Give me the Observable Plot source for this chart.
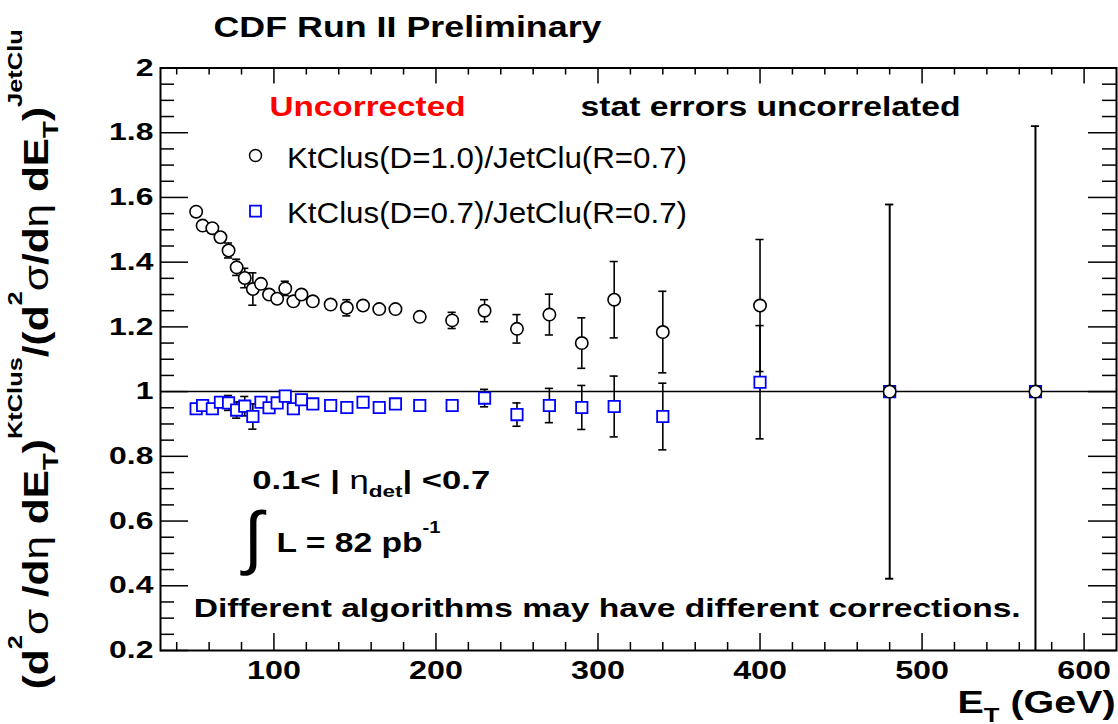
<!DOCTYPE html>
<html><head><meta charset="utf-8">
<script src="https://cdn.jsdelivr.net/npm/d3@7"></script>
<script src="https://cdn.jsdelivr.net/npm/@observablehq/plot@0.6"></script>
<style>
html,body{margin:0;padding:0;background:#fff;}
#chart{width:1118px;height:724px;}
</style></head><body><div id="chart"></div>
<script>
// ---- data ----
const et = [52,56,62,67,72,77,82,87,92,97,102,107,112,117,124,135,145,155,165,175,190,210,230,250,270,290,310,340,400,480,570];
const ktD10 = [1.556,1.513,1.505,1.477,1.436,1.384,1.351,1.317,1.333,1.300,1.287,1.319,1.279,1.300,1.279,1.269,1.259,1.266,1.255,1.255,1.231,1.220,1.250,1.194,1.238,1.150,1.284,1.184,1.266,1.0,1.0];
const ktD10Err = [0.008,0.010,0.015,0.012,0.023,0.025,0.030,0.050,0.010,0.010,0.010,0.022,0.010,0.010,0.008,0.012,0.025,0.008,0.008,0.008,0.008,0.025,0.034,0.044,0.063,0.078,0.118,0.126,0.204,0.578,0.820];
const ktD07 = [0.947,0.957,0.947,0.967,0.965,0.943,0.955,0.923,0.967,0.950,0.965,0.986,0.947,0.975,0.962,0.957,0.951,0.967,0.951,0.962,0.957,0.957,0.980,0.929,0.957,0.951,0.954,0.923,1.029,1.0,1.0];
const ktD07Err = [0.005,0.008,0.010,0.012,0.023,0.025,0.030,0.039,0.010,0.010,0.010,0.015,0.010,0.010,0.008,0.008,0.015,0.008,0.008,0.008,0.008,0.010,0.027,0.036,0.053,0.068,0.094,0.103,0.175,0.578,0.820];
const seriesNames = ["KtClus(D=1.0)/JetClu(R=0.7)", "KtClus(D=0.7)/JetClu(R=0.7)"];
const xTicks = [100,200,300,400,500,600];
const yTicks = [0.2,0.4,0.6,0.8,1,1.2,1.4,1.6,1.8,2];

// ---- tables ----
const s1 = et.map((e,i)=>({et:e, v:ktD10[i], err:ktD10Err[i]}));
const s2 = et.map((e,i)=>({et:e, v:ktD07[i], err:ktD07Err[i]}));
const both = s2.concat(s1);
const xMinor = d3.range(40, 620, 20).filter(v => v % 100 !== 0);
const yMinor = d3.range(5, 40, 1).map(v => v/20).filter(v => Math.abs(v*5 - Math.round(v*5)) > 1e-9 && v > 0.2 && v < 2);

const W=1118, H=724, mL=160, mR=2, mT=67.5, mB=74;
const pw = W-mL-mR, ph = H-mT-mB;
const font = "'Liberation Sans', Arial, Helvetica, sans-serif";
const tk = {stroke:"black", strokeWidth:1.5};

const targets = new Map(); // text -> drawn width (the reference glyphs are wide)
function label(str, dx, dy, w, o = {}) {
  if (w) targets.set(str, w);
  return Plot.text([str], Object.assign({frameAnchor:"top-left", dx, dy, text:d=>d,
    textAnchor:"start", lineAnchor:"bottom", fontSize:27, fontWeight:"bold", fill:"black"}, o));
}
const yLabel = "(d^{2}~{σ} /d~{η} dE_{T})^{KtClus}/(d^{2}~{σ}/d~{η} dE_{T})^{JetClu}";
const xLabel = "E_{T} (GeV)";
targets.set(yLabel, 660);
targets.set(xLabel, 158);

const svg = Plot.plot({
  width: W, height: H, marginLeft: mL, marginRight: mR, marginTop: mT, marginBottom: mB,
  x: {domain:[30,620]}, y: {domain:[0.2,2]},
  style: {fontFamily: font, fontWeight: "bold", fontSize: "25px", background: "white", color: "black", overflow: "visible"},
  marks: [
    Plot.axisX(xTicks, {tickSize:0, tickPadding:11, tickFormat:d=>String(d), fontSize:25, fontWeight:"bold", label:null}),
    Plot.axisY(yTicks, {tickSize:0, tickPadding:7, tickFormat:d=>String(d), fontSize:24, fontWeight:"bold", label:null}),
    // ticks (inward, ROOT style)
    Plot.ruleY(yTicks, {...tk, insetRight: pw-28}),
    Plot.ruleY(yMinor, {...tk, insetRight: pw-14}),
    Plot.ruleY(yTicks, {...tk, insetLeft: pw-28}),
    Plot.ruleY(yMinor, {...tk, insetLeft: pw-14}),
    Plot.ruleX(xTicks, {...tk, insetTop: ph-17}),
    Plot.ruleX(xMinor, {...tk, insetTop: ph-8}),
    Plot.ruleX(xTicks, {...tk, insetBottom: ph-16}),
    Plot.ruleX(xMinor, {...tk, insetBottom: ph-7}),
    Plot.ruleY([1], {stroke:"black", strokeWidth:1.5}),
    // error bars
    Plot.ruleX(both, {x:"et", y1:d=>d.v-d.err, y2:d=>d.v+d.err, stroke:"black", strokeWidth:1.6, clip:true}),
    Plot.ruleY(both, {y:d=>d.v+d.err, x1:d=>d.et-2.5, x2:d=>d.et+2.5, stroke:"black", strokeWidth:1.6, clip:true}),
    Plot.ruleY(both, {y:d=>d.v-d.err, x1:d=>d.et-2.5, x2:d=>d.et+2.5, stroke:"black", strokeWidth:1.6, clip:true}),
    // markers
    Plot.dot(s2, {x:"et", y:"v", symbol:"square", r:6.4, stroke:"#0000ff", strokeWidth:1.8, fill:"white"}),
    Plot.dot(s1, {x:"et", y:"v", symbol:"circle", r:6.2, stroke:"black", strokeWidth:1.6, fill:"white"}),
    Plot.frame({stroke:"black", strokeWidth:2}),
    // texts
    label("CDF Run II Preliminary", 53, -30.7, 388, {fontSize:29}),
    label("Uncorrected", 109, 47.5, 196, {fontSize:27.5, fill:"#ff0000"}),
    label("stat errors uncorrelated", 420, 47.5, 380, {fontSize:27.5}),
    Plot.dot([0], {frameAnchor:"top-left", dx:95, dy:87.5, symbol:"circle", r:6, stroke:"black", strokeWidth:1.5, fill:"white"}),
    label(seriesNames[0], 126.5, 99.5, 400, {fontSize:29, fontWeight:"normal"}),
    Plot.dot([0], {frameAnchor:"top-left", dx:95, dy:143.2, symbol:"square", r:6.2, stroke:"#0000ff", strokeWidth:1.8, fill:"white"}),
    label(seriesNames[1], 126.5, 154.5, 400, {fontSize:29, fontWeight:"normal"}),
    label("0.1< | ~{η}_{det}| <0.7", 91.7, 420.8, 238, {fontSize:26}),
    label("∫", 83, 492.5, null, {fontSize:70, fontWeight:"normal"}),
    label("L = 82 pb^{-1}", 116, 484.2, 164, {fontSize:27}),
    label("Different algorithms may have different corrections.", 33.2, 548.5, 827, {fontSize:25}),
    Plot.text([xLabel], {frameAnchor:"bottom-right", dx:-1, dy:62, text:d=>d, textAnchor:"end", lineAnchor:"bottom", fontSize:32, fontWeight:"bold", fill:"black"}),
    Plot.text([yLabel], {frameAnchor:"left", dx:-113, rotate:-90, text:d=>d, textAnchor:"middle", lineAnchor:"bottom", fontSize:35, fontWeight:"bold", fill:"black"})
  ]
});
document.getElementById("chart").append(svg);

// rich text: ^{sup}, _{sub}, ~{regular weight}
function rich(t, s) {
  const F = parseFloat(getComputedStyle(t).fontSize);
  const parts = s.split(/(\^\{[^}]*\}|_\{[^}]*\}|~\{[^}]*\})/).filter(p => p !== "");
  t.textContent = "";
  let off = 0;
  for (const p of parts) {
    const ts = document.createElementNS("http://www.w3.org/2000/svg", "tspan");
    let target = 0, txt = p, size = null, weight = null;
    if (p.startsWith("^{")) { txt = p.slice(2,-1); target = -0.72*F; size = 0.6*F; }
    else if (p.startsWith("_{")) { txt = p.slice(2,-1); target = 0.3*F; size = 0.65*F; }
    else if (p.startsWith("~{")) { txt = p.slice(2,-1); weight = "normal"; }
    const dy = target - off; off = target;
    if (dy) ts.setAttribute("dy", dy);
    if (size) ts.setAttribute("font-size", size);
    if (weight) ts.setAttribute("font-weight", weight);
    ts.textContent = txt;
    t.appendChild(ts);
  }
}
svg.querySelectorAll("text").forEach(t => {
  const raw = t.textContent;
  if (/[\^_~]\{/.test(raw)) rich(t, raw);
  const len = t.getComputedTextLength();
  if (!len) return;
  let target = null;
  if (targets.has(raw)) target = targets.get(raw);
  else if (t.closest('[aria-label="x-axis tick label"]')) target = len * 1.29;
  else if (t.closest('[aria-label="y-axis tick label"]')) target = len * 1.33;
  else if (raw !== "∫") target = len * 1.2;
  if (target) {
    t.setAttribute("textLength", target.toFixed(1));
    t.setAttribute("lengthAdjust", "spacingAndGlyphs");
  }
});
</script></body></html>
